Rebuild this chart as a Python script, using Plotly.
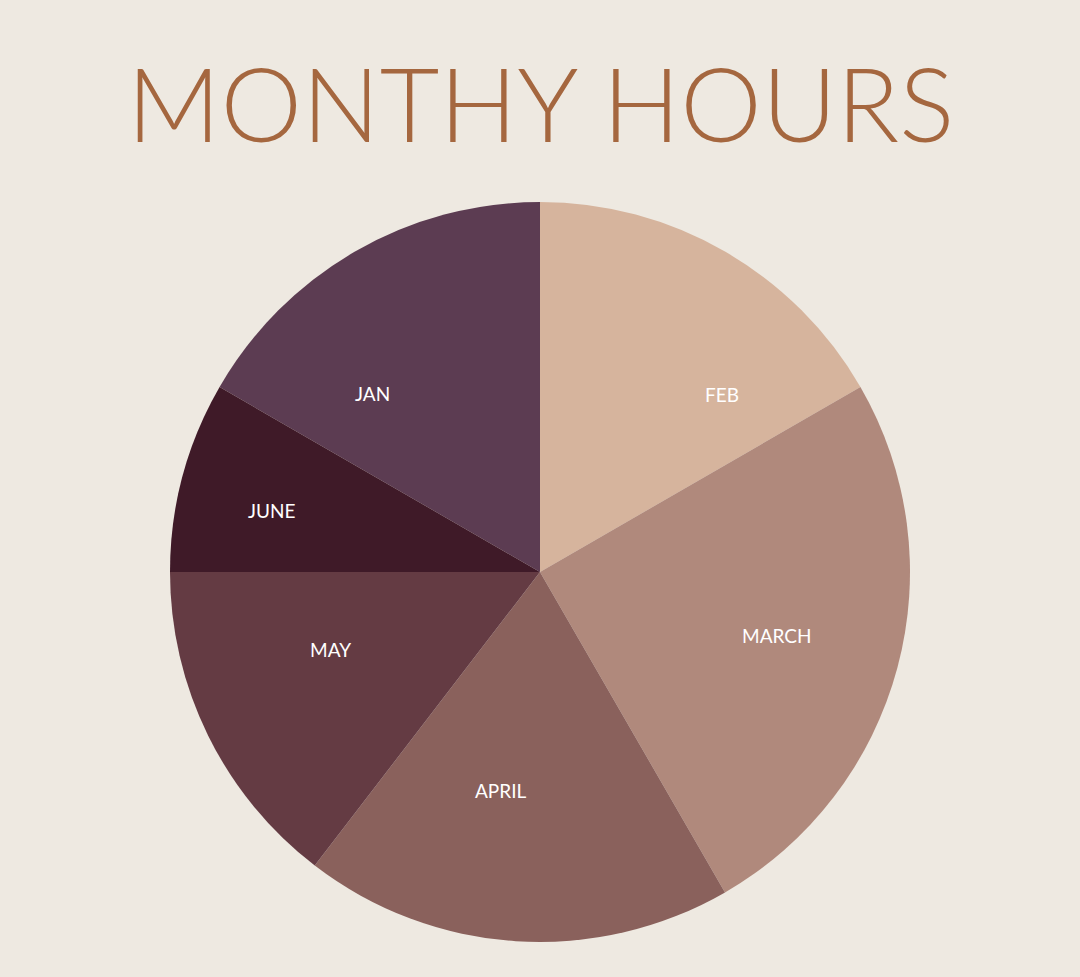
import math
import plotly.graph_objects as go

months = ["JAN", "FEB", "MARCH", "APRIL", "MAY", "JUNE"]
hours = [40, 40, 60, 45, 35, 20]
colors = ["#5C3C52", "#D6B49D", "#B0897C", "#8A615C", "#643B43", "#3F1A28"]
title_text = "MONTHY HOURS"

# label placement style: angular shift (deg) from slice middle, radial fraction
label_shift = [-13.3, 15.6, 0.0, 6.6, 6.0, -2.0]
label_radius = [0.662, 0.687, 0.662, 0.600, 0.603, 0.743]

W, H = 1080, 977
cx, cy, r = 540, 572, 370
start_angle = -60  # degrees clockwise from 12 o'clock

fig = go.Figure(go.Pie(
    labels=months,
    values=hours,
    sort=False,
    direction="clockwise",
    rotation=start_angle,
    marker=dict(colors=colors, line=dict(width=0)),
    textinfo="none",
    hoverinfo="label+value",
    showlegend=False,
    domain=dict(x=[(cx - r) / W, (cx + r) / W], y=[(H - cy - r) / H, (H - cy + r) / H]),
))

total = sum(hours)
acc = 0.0
for name, v, sh, rf in zip(months, hours, label_shift, label_radius):
    mid = start_angle + (acc + v / 2) / total * 360 + sh
    acc += v
    a = math.radians(mid)
    d = rf * r
    px = cx + d * math.sin(a)
    py = cy - d * math.cos(a)
    fig.add_annotation(
        text=name, x=px / W, y=(H - py) / H, xref="paper", yref="paper",
        xanchor="center", yanchor="middle", showarrow=False,
        font=dict(family="Lato", size=19, color="white"),
    )

fig.add_annotation(
    text=title_text, x=0.5, y=(H - 102) / H, xref="paper", yref="paper",
    xanchor="center", yanchor="middle", showarrow=False,
    font=dict(family="Lato", size=103, color="#A5673F", weight=300),
)

fig.update_layout(
    width=W, height=H,
    margin=dict(l=0, r=0, t=0, b=0),
    paper_bgcolor="#EEE9E1",
    plot_bgcolor="#EEE9E1",
)

fig.write_html(
    "out.html",
    config={"displayModeBar": False},
    post_script="document.body.style.margin='0';",
)
